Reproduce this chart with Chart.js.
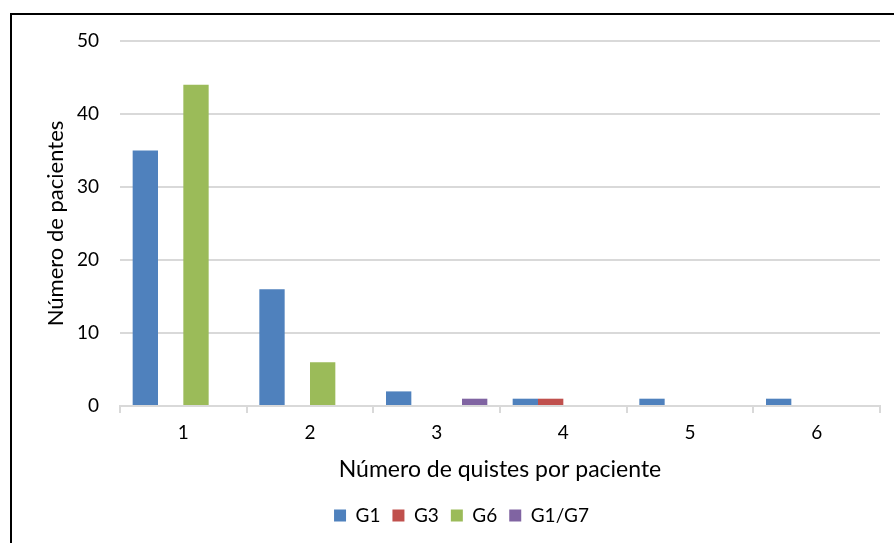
<!DOCTYPE html>
<html>
<head>
<meta charset="utf-8">
<script src="https://cdn.jsdelivr.net/npm/chart.js@4.4.1/dist/chart.umd.min.js"></script>
<style>
  html, body { margin: 0; padding: 0; background: #fff; }
  #wrap { position: relative; width: 894px; height: 543px; }
  #frame { position: absolute; left: 10px; top: 13px; right: 0; bottom: 0;
           border-left: 2px solid #000; border-top: 2px solid #000; }
  #c { position: absolute; left: 0; top: 0; }
</style>
</head>
<body>
<div id="wrap">
  <div id="frame"></div>
  <canvas id="c" width="894" height="543"></canvas>
</div>
<script>
// Patients by number of cysts, per genotype
const categories = ['1', '2', '3', '4', '5', '6'];
const g1   = [35, 16, 2, 1, 1, 1];
const g3   = [0, 0, 0, 1, 0, 0];
const g6   = [44, 6, 0, 0, 0, 0];
const g1g7 = [0, 0, 1, 0, 0, 0];
const seriesNames = ['G1', 'G3', 'G6', 'G1/G7'];
const seriesColors = ['#4F81BD', '#C0504D', '#9BBB59', '#8064A2'];
const yTicks = [0, 10, 20, 30, 40, 50];

const FONT = 'Lato, "Open Sans", sans-serif';
const seriesData = [g1, g3, g6, g1g7];

new Chart(document.getElementById('c'), {
  type: 'bar',
  data: {
    labels: categories,
    datasets: seriesData.map((d, i) => ({
      label: seriesNames[i],
      data: d,
      backgroundColor: seriesColors[i],
      borderWidth: 0,
      categoryPercentage: 0.8,
      barPercentage: 1.0
    }))
  },
  options: {
    responsive: false,
    animation: false,
    layout: { padding: { left: 43, top: 41, right: 14, bottom: 8 } },
    plugins: {
      tooltip: { enabled: false },
      legend: {
        position: 'bottom',
        labels: {
          boxWidth: 12, boxHeight: 12, padding: 12,
          color: '#000',
          font: { family: FONT, size: 19 }
        }
      }
    },
    scales: {
      x: {
        afterFit: s => { s.height = 88; },
        grid: {
          offset: true, drawOnChartArea: false, drawTicks: true,
          tickLength: 7, color: '#d9d9d9', lineWidth: 2
        },
        border: { display: true, color: '#d9d9d9', width: 2 },
        ticks: { color: '#000', padding: 8, font: { family: FONT, size: 19 } },
        title: {
          display: true, text: 'Número de quistes por paciente',
          color: '#000', font: { family: FONT, size: 23 },
          padding: { top: 0, bottom: 11 }
        }
      },
      y: {
        min: 0, max: 50,
        afterFit: s => { s.width = 77; },
        afterBuildTicks: s => { s.ticks = yTicks.map(v => ({ value: v })); },
        grid: { color: '#d9d9d9', lineWidth: 2, drawTicks: false },
        border: { display: false },
        ticks: { color: '#000', padding: 21, font: { family: FONT, size: 19 } },
        title: {
          display: true, text: 'Número de pacientes',
          color: '#000', font: { family: FONT, size: 22 },
          padding: { top: 0, bottom: 0 }
        }
      }
    }
  }
});
</script>
</body>
</html>
